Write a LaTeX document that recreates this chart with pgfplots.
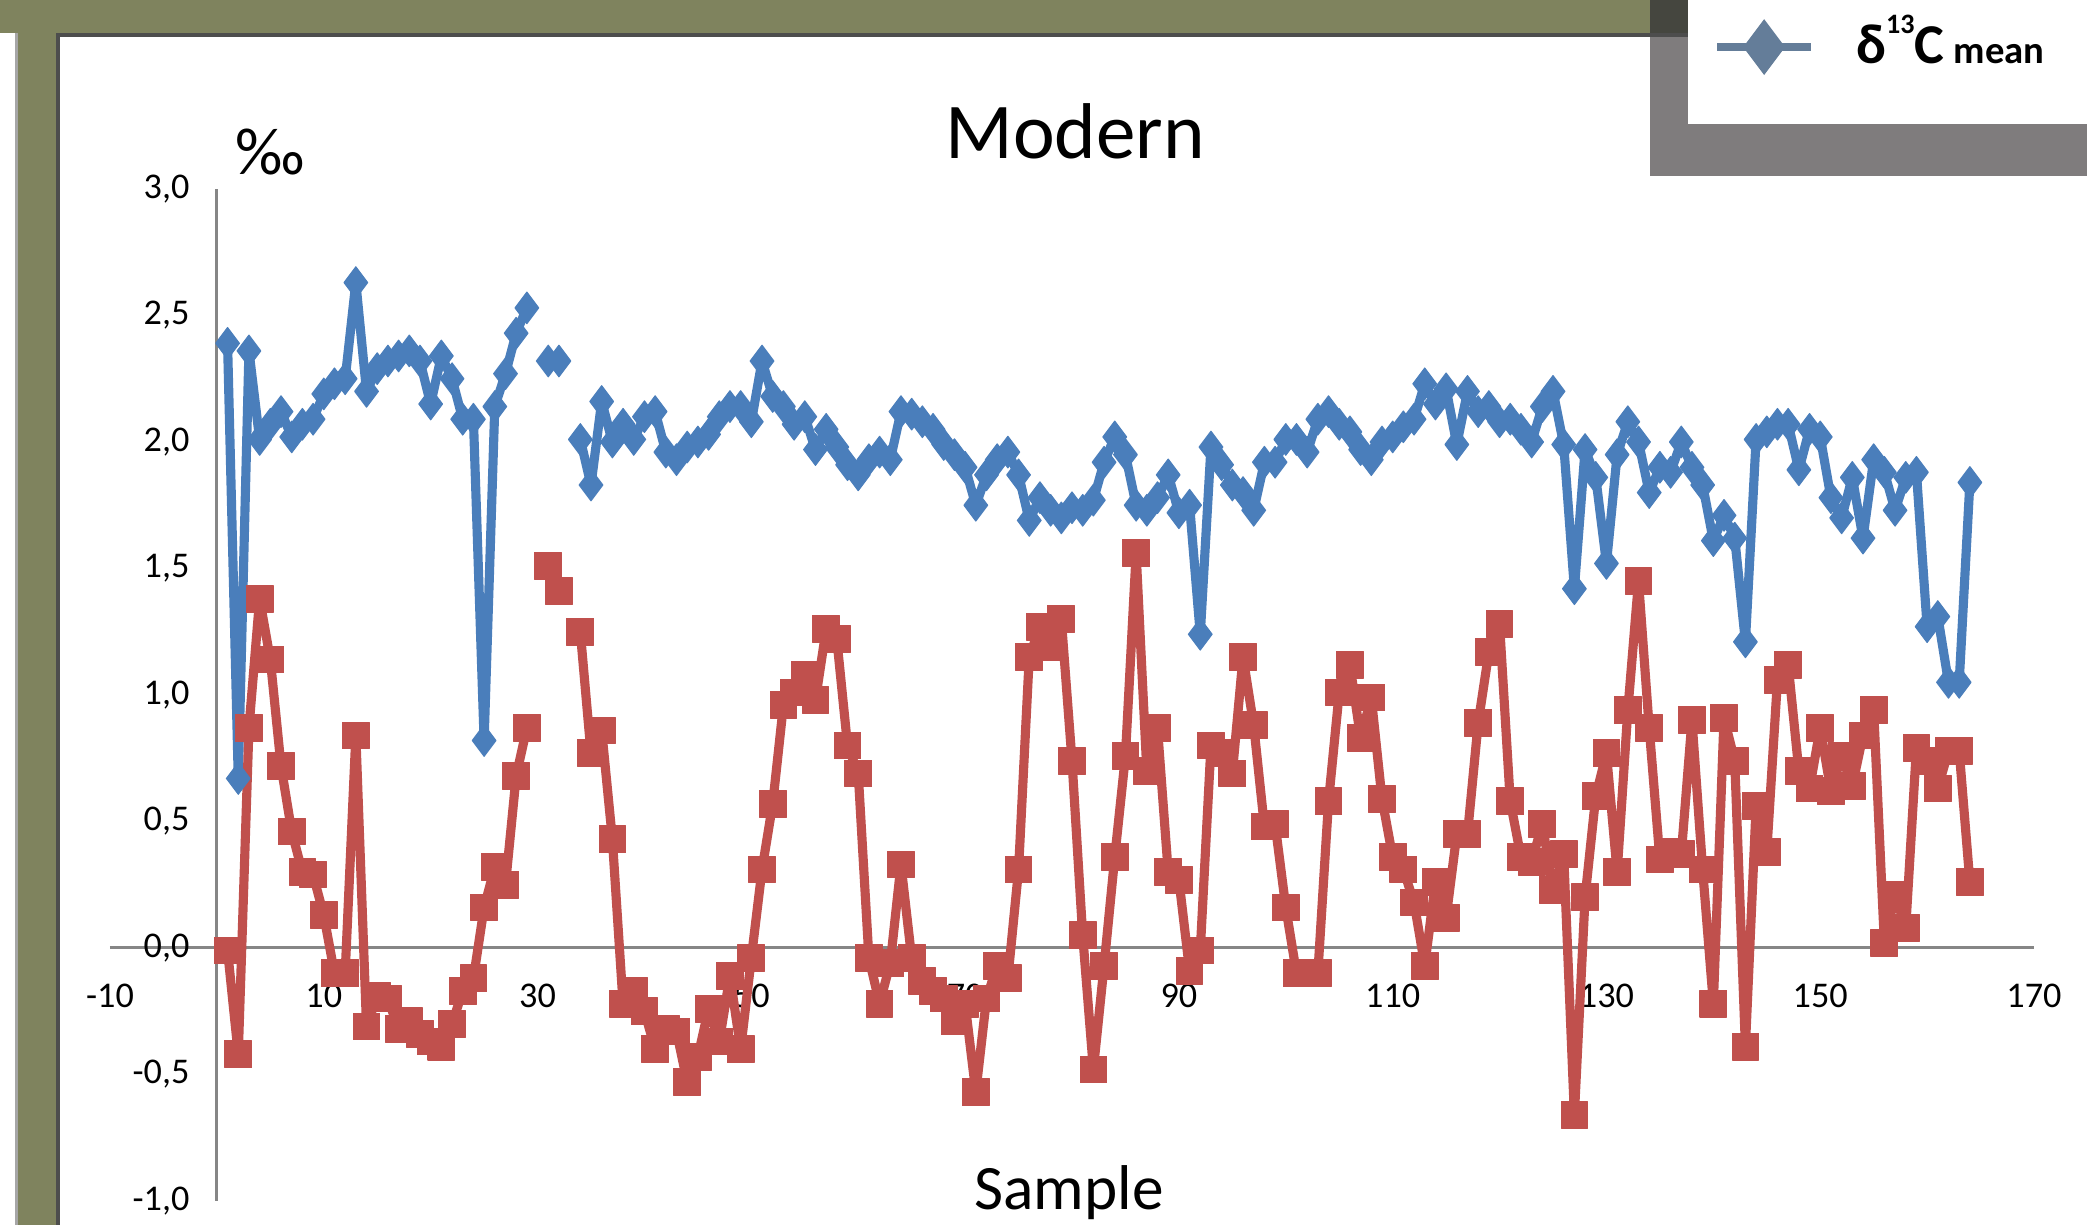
\documentclass[border=0pt]{standalone}
\usepackage{fontspec}
\setmainfont{Carlito}
\usepackage{pgfplots}
\pgfplotsset{compat=1.18}
\usepackage{pgfplotstable}

\definecolor{serblue}{HTML}{4A7EBB}
\definecolor{serred}{HTML}{C0504D}
\definecolor{legblue}{HTML}{647D99}
\definecolor{olivebg}{HTML}{7F835E}
\definecolor{darkline}{HTML}{4D4D4D}
\definecolor{darkcorner}{HTML}{45463F}
\definecolor{boxgrey}{HTML}{7F7C7D}
\definecolor{axgrey}{HTML}{868686}
\definecolor{lightline}{HTML}{A6A6A6}

\pgfplotstableread{
x y
1 2.39
2 0.67
3 2.36
4 2.01
5 2.07
6 2.12
7 2.02
8 2.07
9 2.09
10 2.19
11 2.23
12 2.25
13 2.63
14 2.20
15 2.29
16 2.32
17 2.34
18 2.36
19 2.32
20 2.15
21 2.34
22 2.25
23 2.09
24 2.09
25 0.82
26 2.14
27 2.27
28 2.43
29 2.53
30 nan
31 2.32
32 2.32
33 nan
34 2.01
35 1.83
36 2.16
37 2.00
38 2.07
39 2.01
40 2.10
41 2.12
42 1.96
43 1.93
44 1.98
45 2.00
46 2.03
47 2.10
48 2.14
49 2.14
50 2.08
51 2.32
52 2.18
53 2.14
54 2.07
55 2.10
56 1.97
57 2.05
58 1.98
59 1.91
60 1.87
61 1.93
62 1.96
63 1.93
64 2.12
65 2.11
66 2.08
67 2.05
68 1.99
69 1.95
70 1.90
71 1.75
72 1.87
73 1.93
74 1.96
75 1.87
76 1.69
77 1.78
78 1.73
79 1.70
80 1.74
81 1.73
82 1.77
83 1.92
84 2.02
85 1.95
86 1.75
87 1.73
88 1.78
89 1.87
90 1.72
91 1.75
92 1.24
93 1.98
94 1.91
95 1.83
96 1.80
97 1.73
98 1.92
99 1.92
100 2.01
101 2.01
102 1.96
103 2.09
104 2.12
105 2.07
106 2.04
107 1.97
108 1.93
109 2.00
110 2.02
111 2.06
112 2.09
113 2.23
114 2.15
115 2.21
116 1.99
117 2.20
118 2.12
119 2.14
120 2.08
121 2.09
122 2.05
123 2.00
124 2.14
125 2.20
126 1.99
127 1.42
128 1.97
129 1.86
130 1.52
131 1.95
132 2.08
133 2.00
134 1.80
135 1.90
136 1.88
137 2.00
138 1.90
139 1.83
140 1.61
141 1.71
142 1.62
143 1.21
144 2.01
145 2.04
146 2.07
147 2.07
148 1.89
149 2.05
150 2.02
151 1.78
152 1.70
153 1.86
154 1.62
155 1.93
156 1.88
157 1.73
158 1.86
159 1.88
160 1.27
161 1.31
162 1.05
163 1.05
164 1.84
}\bluedata

\pgfplotstableread{
x y
1 -0.01
2 -0.42
3 0.87
4 1.38
5 1.14
6 0.72
7 0.46
8 0.30
9 0.29
10 0.13
11 -0.10
12 -0.10
13 0.84
14 -0.31
15 -0.19
16 -0.20
17 -0.32
18 -0.29
19 -0.34
20 -0.37
21 -0.39
22 -0.30
23 -0.17
24 -0.12
25 0.16
26 0.32
27 0.25
28 0.68
29 0.87
30 nan
31 1.51
32 1.41
33 nan
34 1.25
35 0.77
36 0.86
37 0.43
38 -0.22
39 -0.17
40 -0.25
41 -0.40
42 -0.32
43 -0.33
44 -0.53
45 -0.43
46 -0.24
47 -0.37
48 -0.11
49 -0.40
50 -0.04
51 0.31
52 0.57
53 0.96
54 1.01
55 1.08
56 0.98
57 1.26
58 1.22
59 0.80
60 0.69
61 -0.04
62 -0.22
63 -0.06
64 0.33
65 -0.04
66 -0.13
67 -0.17
68 -0.20
69 -0.29
70 -0.22
71 -0.57
72 -0.20
73 -0.07
74 -0.12
75 0.31
76 1.15
77 1.27
78 1.19
79 1.30
80 0.74
81 0.05
82 -0.48
83 -0.07
84 0.36
85 0.76
86 1.56
87 0.70
88 0.87
89 0.30
90 0.27
91 -0.09
92 -0.01
93 0.80
94 0.77
95 0.69
96 1.15
97 0.88
98 0.48
99 0.49
100 0.16
101 -0.10
102 -0.10
103 -0.10
104 0.58
105 1.01
106 1.12
107 0.83
108 0.99
109 0.59
110 0.36
111 0.31
112 0.18
113 -0.07
114 0.26
115 0.12
116 0.45
117 0.45
118 0.89
119 1.17
120 1.28
121 0.58
122 0.36
123 0.34
124 0.49
125 0.23
126 0.37
127 -0.66
128 0.20
129 0.60
130 0.77
131 0.30
132 0.94
133 1.45
134 0.87
135 0.35
136 0.38
137 0.37
138 0.90
139 0.31
140 -0.22
141 0.91
142 0.74
143 -0.39
144 0.56
145 0.38
146 1.06
147 1.12
148 0.70
149 0.63
150 0.87
151 0.62
152 0.76
153 0.64
154 0.84
155 0.94
156 0.02
157 0.21
158 0.08
159 0.79
160 0.74
161 0.63
162 0.78
163 0.78
164 0.26
}\reddata

\begin{document}
\begin{tikzpicture}
% page background and frame decoration (1 px of the reference = 0.01 cm)
\path[use as bounding box, fill=white] (0,0) rectangle (20.87,12.25);
\fill[olivebg] (0.18,0) rectangle (0.57,12.25);
\fill[olivebg] (0,11.92) rectangle (16.50,12.25);
\fill[lightline] (0.15,0) rectangle (0.18,11.92);
\fill[darkline] (0.56,0) rectangle (0.60,11.92);
\fill[darkline] (0.56,11.88) rectangle (16.88,11.92);
\fill[darkcorner] (16.50,11.92) rectangle (16.88,12.25);
\fill[boxgrey] (16.50,10.49) rectangle (20.87,11.88);
\fill[white] (16.88,11.01) rectangle (20.87,12.25);

\begin{axis}[
  at={(1.10cm,0.24cm)}, anchor=south west,
  scale only axis, width=19.24cm, height=10.12cm,
  axis lines=middle,
  axis line style={axgrey, line width=0.85pt, -},
  xmin=-10, xmax=170, ymin=-1, ymax=3,
  xtick={-10,10,...,170},
  ytick={-1,-0.5,0,0.5,1,1.5,2,2.5,3},
  major tick length=0pt,
  tick style={draw=none},
  hide obscured x ticks=false, hide obscured y ticks=false,
  /pgf/number format/assume math mode=true,
  ticklabel style={font=\fontsize{10.3}{12}\selectfont, text=black},
  xticklabel style={anchor=base, yshift=-0.60cm},
  yticklabel style={anchor=east, xshift=-0.15cm,
    /pgf/number format/.cd, fixed, fixed zerofill, precision=1, use comma},
  title={Modern},
  title style={at={(0.5016,1.009)}, anchor=base, font=\fontsize{22.5}{26}\selectfont},
  xlabel={Sample},
  every axis x label/.style={at={(0.4985,-0.008)}, anchor=base, font=\fontsize{18}{21}\selectfont},
  ylabel={‰},
  every axis y label/.style={at={(0.0832,1.0366)}, anchor=center, font=\fontsize{19}{22}\selectfont},
  unbounded coords=jump,
  legend style={at={(0.8332,1.1428)}, anchor=west, draw=none, fill=none,
    inner sep=0pt, outer sep=0pt, column sep=0.41cm,
    nodes={inner sep=0pt, anchor=base west, yshift=-0.16cm}},
  legend image code/.code={\draw[mark repeat=2, mark phase=2, #1]
    plot coordinates {(0cm,0cm) (0.47cm,0cm) (0.94cm,0cm)};},
]
\addplot[serblue, line width=2.6pt, line join=round, mark=diamond*, mark size=4.5pt,
  mark options={line width=0.3pt, fill=serblue}, forget plot] table[x=x, y=y] {\bluedata};
\addplot[serred, line width=2.6pt, line join=round, mark=square*, mark size=3.8pt,
  mark options={line width=0.3pt, fill=serred}, forget plot] table[x=x, y=y] {\reddata};
\addlegendimage{legblue, line width=2.3pt, mark=diamond*, mark size=7.7pt,
  mark options={line width=0.3pt, fill=legblue}}
\addlegendentry{\bfseries\fontsize{16}{19}\selectfont δ\raisebox{8.5pt}{\fontsize{8}{9}\selectfont 13}C\,{\fontsize{11}{13}\selectfont mean}}
\end{axis}
\end{tikzpicture}
\end{document}
